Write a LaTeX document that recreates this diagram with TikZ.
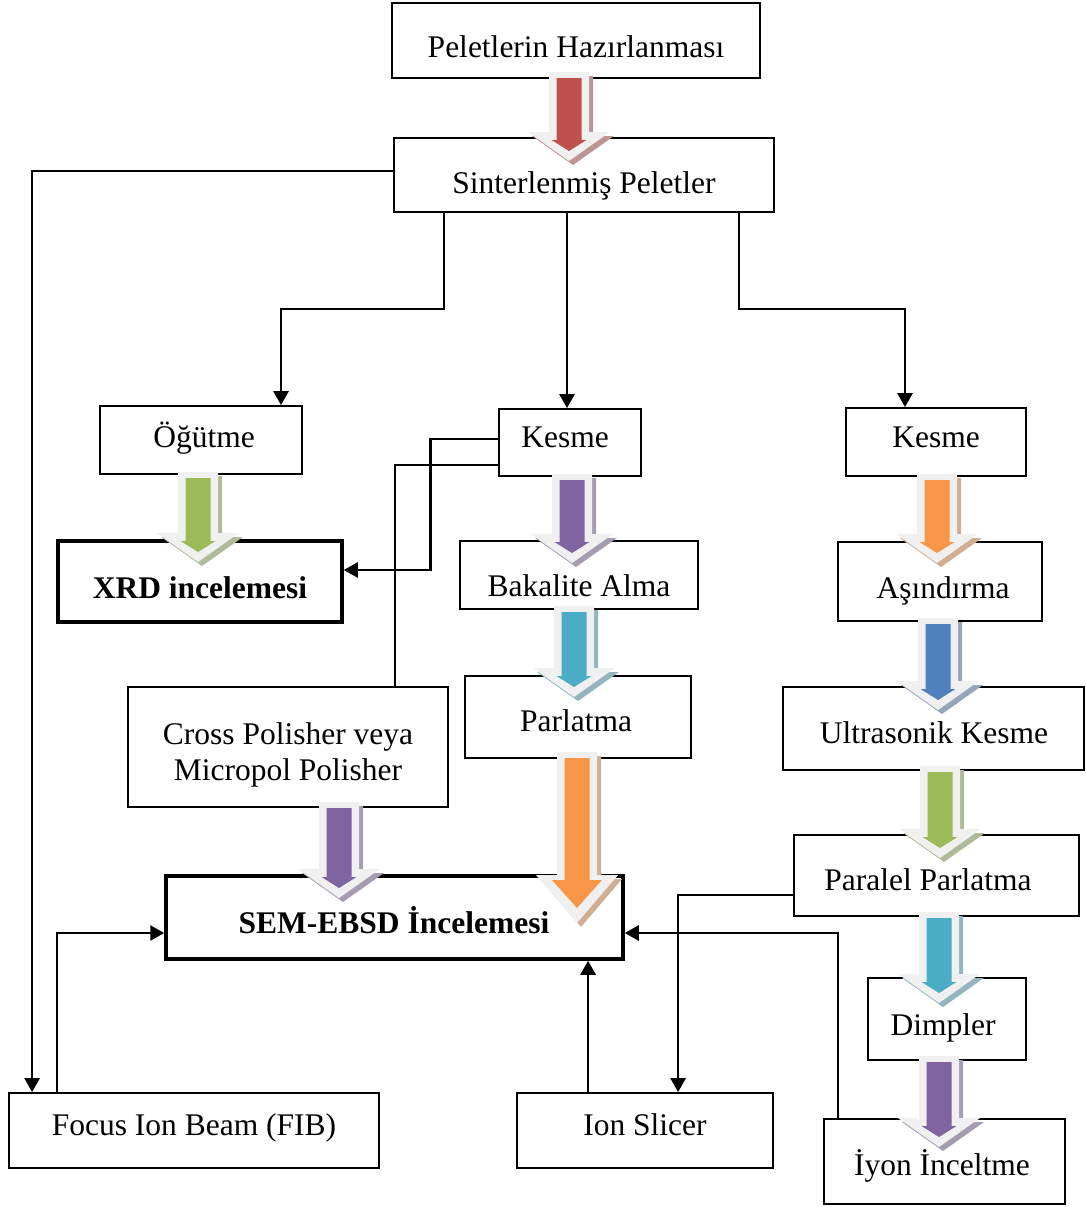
\documentclass[tikz,border=0pt]{standalone}
\usepackage{fontspec}
\setmainfont{Liberation Serif}
\usetikzlibrary{arrows.meta,calc}
\definecolor{cred}{HTML}{C0504D}
\definecolor{cgreen}{HTML}{9BBB59}
\definecolor{cpurple}{HTML}{8064A2}
\definecolor{corange}{HTML}{F79646}
\definecolor{ccyan}{HTML}{4BACC6}
\definecolor{cblue}{HTML}{4F81BD}
\definecolor{arrgray}{HTML}{F0F0F0}
% cx, top, tip, outer head length, inner tip inset, inner head length, inner head half width, colour
\newcommand{\fatarr}[8]{%
  \pgfmathsetmacro{\hb}{#3-#4}%
  \pgfmathsetmacro{\ti}{#3-#5}%
  \pgfmathsetmacro{\hbi}{#3-#5-#6}%
  \fill[#8!50!gray!70!white] ({#1-16},{#2+4}) -- ({#1+24},{#2+4}) -- ({#1+24},{\hb+4}) -- ({#1+45},{\hb+4}) -- ({#1+4},{#3+4}) -- ({#1-37},{\hb+4}) -- ({#1-16},{\hb+4}) -- cycle;
  \fill[arrgray] ({#1-20},{#2}) -- ({#1+20},{#2}) -- ({#1+20},{\hb}) -- ({#1+41},{\hb}) -- ({#1},{#3}) -- ({#1-41},{\hb}) -- ({#1-20},{\hb}) -- cycle;
  \fill[#8] ({#1-12.5},{#2+6}) -- ({#1+12.5},{#2+6}) -- ({#1+12.5},{\hbi}) -- ({#1+#7},{\hbi}) -- ({#1},{\ti}) -- ({#1-#7},{\hbi}) -- ({#1-12.5},{\hbi}) -- cycle;
}
\newcommand{\smallarr}[4]{\fatarr{#1}{#2}{#3}{29}{10}{11}{17.5}{#4}}
\begin{document}
\begin{tikzpicture}[x=1pt,y=-1pt,
  box/.style={draw=black,line width=1.8pt,rectangle,inner sep=0pt},
  thickbox/.style={draw=black,line width=3.5pt,rectangle,inner sep=0pt},
  txt/.style={font=\fontsize{31.5}{36}\selectfont,inner sep=0pt,anchor=base},
  btxt/.style={txt,font=\fontsize{31.5}{36}\selectfont\bfseries},
  conn/.style={line width=2.6pt,-{Triangle[length=14pt,width=15pt]}},
  plain/.style={line width=2.6pt}]
\useasboundingbox (0,0) rectangle (1085,1207);
% boxes
\node[box,minimum width=368,minimum height=75] (pel) at (576,40.5) {};
\node[box,minimum width=380,minimum height=74] (sint) at (584,175) {};
\node[box,minimum width=202,minimum height=68] (ogut) at (201,440) {};
\node[box,minimum width=142,minimum height=67] (kes1) at (570,442.5) {};
\node[box,minimum width=180,minimum height=68] (kes2) at (936,442) {};
\node[thickbox,minimum width=284,minimum height=81] (xrd) at (200,581.5) {};
\node[box,minimum width=238,minimum height=68] (bak) at (579,575) {};
\node[box,minimum width=204,minimum height=79] (asin) at (940,581.5) {};
\node[box,minimum width=226,minimum height=82] (parl) at (578,717) {};
\node[box,minimum width=320,minimum height=120] (cross) at (288,747) {};
\node[box,minimum width=301,minimum height=83] (ultra) at (933.5,728.5) {};
\node[box,minimum width=285,minimum height=81] (paral) at (936.5,875.5) {};
\node[thickbox,minimum width=457,minimum height=83] (sem) at (394.5,917.5) {};
\node[box,minimum width=158,minimum height=82] (dimp) at (947,1019) {};
\node[box,minimum width=370,minimum height=75] (fib) at (194,1130.5) {};
\node[box,minimum width=256,minimum height=75] (ions) at (645,1130.5) {};
\node[box,minimum width=241,minimum height=85] (iyon) at (944.5,1161.5) {};
% connectors
\draw[conn] ($(sint.west)+(0,-4)$) -| ($(fib.north west)+(24,0)$);
\draw[conn] ($(sint.south west)+(51,0)$) -- ++(0,96) -| ($(ogut.north)+(80,0)$);
\draw[conn] ($(sint.south)+(-17,0)$) -- ($(kes1.north)+(-3,0)$);
\draw[conn] ($(sint.south east)+(-36,0)$) -- ++(0,96) -| ($(kes2.north)+(-31,0)$);
\draw[conn] ($(kes1.west)+(0,-3.5)$) -| ($(xrd.east)+(87,-11.5)$) -- ($(xrd.east)+(0,-11.5)$);
\draw[plain] ($(kes1.west)+(0,22.5)$) -| ($(cross.north)+(107,0)$);
\draw[conn] ($(fib.north west)+(49,0)$) |- ($(sem.west)+(0,15.5)$);
\draw[conn] ($(ions.north west)+(72,0)$) coordinate (isup) -- (isup |- sem.south);
\draw[conn] ($(paral.west)+(0,19.5)$) -| ($(ions.north west)+(162,0)$);
\draw[conn] ($(iyon.north west)+(15,0)$) |- ($(sem.east)+(0,15.5)$);
% fat arrows
\smallarr{569}{72}{161}{cred}
\smallarr{198}{472}{562}{cgreen}
\smallarr{572}{474}{563}{cpurple}
\smallarr{937}{474}{563}{corange}
\smallarr{574}{606}{697}{ccyan}
\smallarr{938}{618}{710}{cblue}
\smallarr{339}{802}{898}{cpurple}
\fatarr{577}{752}{923}{48}{15}{28}{25}{corange}
\smallarr{940}{766}{858}{cgreen}
\smallarr{939}{912}{1003}{ccyan}
\smallarr{939}{1056}{1147}{cpurple}
% texts
\node[txt] (pel-t) at (576,58) {Peletlerin Hazırlanması};
\node[txt] (sint-t) at (584,193) {Sinterlenmiş Peletler};
\node[txt] (ogut-t) at (204,447) {Öğütme};
\node[txt] (kes1-t) at (565,447) {Kesme};
\node[txt] (kes2-t) at (936,447) {Kesme};
\node[btxt] (xrd-t) at (200,598) {XRD incelemesi};
\node[txt] (bak-t) at (579,596) {Bakalite Alma};
\node[txt] (asin-t) at (943,598) {Aşındırma};
\node[txt] (parl-t) at (576,731) {Parlatma};
\node[txt,anchor=center,align=center] (cross-t) at (288,754.5) {Cross Polisher veya\\Micropol Polisher};
\node[txt] (ultra-t) at (934,743) {Ultrasonik Kesme};
\node[txt] (paral-t) at (928,890) {Paralel Parlatma};
\node[btxt] (sem-t) at (394,933) {SEM-EBSD İncelemesi};
\node[txt] (dimp-t) at (943,1035) {Dimpler};
\node[txt] (fib-t) at (194,1135) {Focus Ion Beam (FIB)};
\node[txt] (ions-t) at (645,1135) {Ion Slicer};
\node[txt] (iyon-t) at (942,1175) {İyon İnceltme};
\end{tikzpicture}
\end{document}
